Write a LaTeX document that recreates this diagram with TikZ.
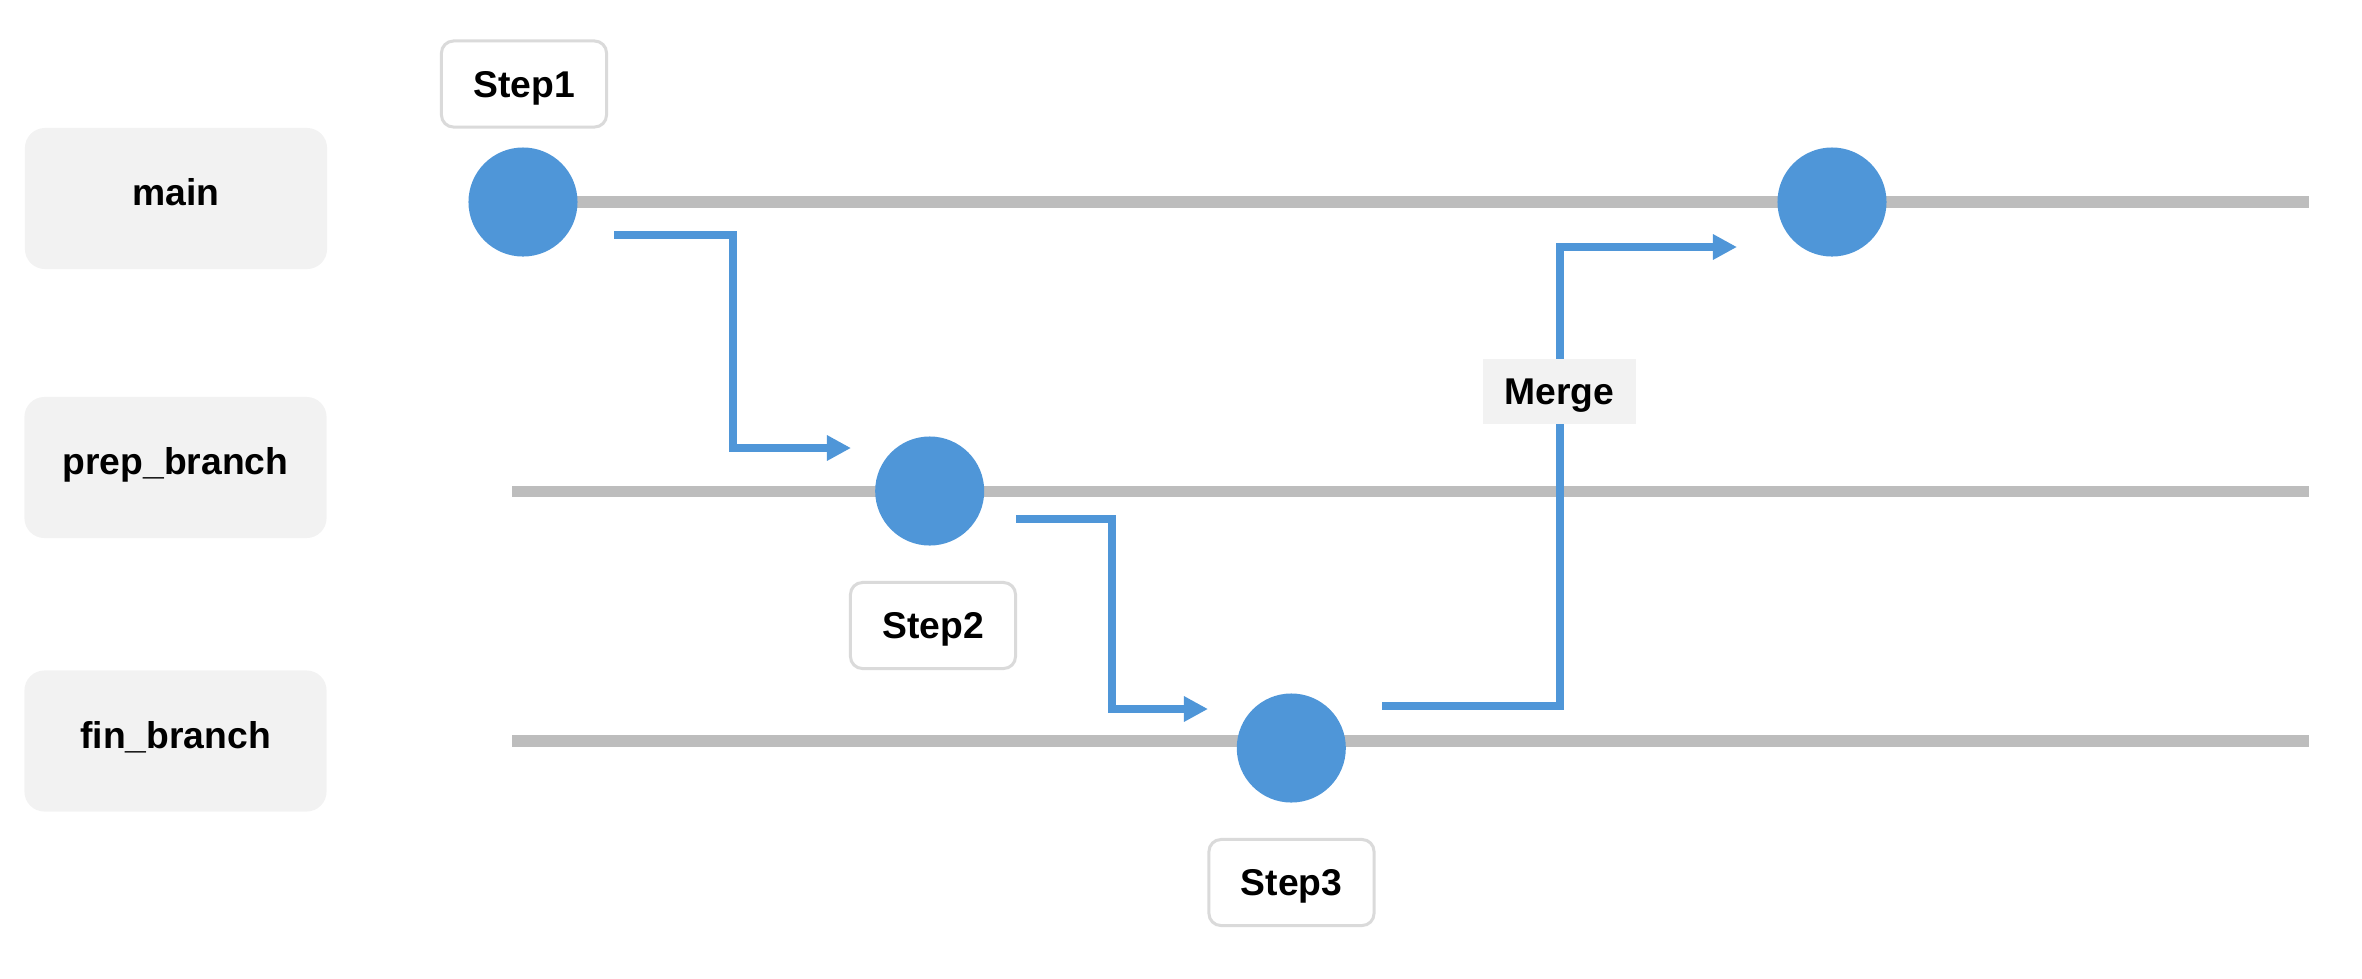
\documentclass[tikz,border=0pt]{standalone}
\usepackage{fontspec}
\setmainfont{Liberation Sans}
\usetikzlibrary{arrows.meta,calc}
\definecolor{laneFill}{HTML}{F2F2F2}
\definecolor{railGray}{HTML}{BDBDBD}
\definecolor{commitBlue}{HTML}{4F96D8}
\definecolor{stepBorder}{HTML}{DADADA}
\tikzset{
  labelfont/.style={font=\fontsize{10.6}{12}\selectfont\bfseries, text height=7.6pt},
  lanebox/.style={labelfont, text depth=1.2mm, fill=laneFill, rounded corners=0.2cm, minimum width=3.02cm, minimum height=1.41cm, inner sep=0pt},
  rail/.style={draw=railGray, line width=1.15mm},
  commit/.style={circle, fill=commitBlue, minimum size=1.09cm, inner sep=0pt},
  stepbox/.style={labelfont, text depth=0pt, draw=stepBorder, line width=0.3mm, fill=white, rounded corners=0.12cm, minimum width=1.65cm, minimum height=0.86cm, inner sep=0pt},
  mergebox/.style={labelfont, text depth=0pt, fill=laneFill, minimum width=1.53cm, minimum height=0.65cm, inner sep=0pt},
  flow/.style={draw=commitBlue, line width=0.8mm, -{Triangle[length=2.4mm, width=2.4mm]}}
}
\begin{document}
\begin{tikzpicture}[x=0.01cm, y=-0.01cm]
\useasboundingbox (0,0) rectangle (2362,978);
% lane labels
\node[lanebox] (lmain) at (176,198.5) {main};
\node[lanebox] (lprep) at (175.5,467.5) {prep\_branch};
\node[lanebox] (lfin) at (175.5,741) {fin\_branch};
% rail end points
\coordinate (mainStart) at (523,202);
\coordinate (mainEnd) at (2309,202);
\coordinate (prepStart) at (512,491.5);
\coordinate (prepEnd) at (2309,491.5);
\coordinate (finStart) at (512,741);
\coordinate (finEnd) at (2309,741);
% rails
\draw[rail] (mainStart) -- (mainEnd);
\draw[rail] (prepStart) -- (prepEnd);
\draw[rail] (finStart) -- (finEnd);
% commits
\node[commit] (c1) at (523,202) {};
\node[commit] (c2) at (929.7,491) {};
\node[commit] (c3) at (1291.3,748) {};
\node[commit] (c4) at (1832,202) {};
% step labels
\node[stepbox] (s1) at (524,84) {Step1};
\node[stepbox] (s2) at (933,625.5) {Step2};
\node[stepbox] (s3) at (1291.5,882.5) {Step3};
% connectors
\coordinate (f1a) at (614,235);
\coordinate (f1b) at (851,448);
\coordinate (f2a) at (1016,519);
\coordinate (f2b) at (1208,709);
\coordinate (f3a) at (1382,705.5);
\coordinate (f3b) at (1737,247);
\draw[flow] (f1a) -| ($(f1a)!.5!(f1b)$) |- (f1b);
\draw[flow] (f2a) -| ($(f2a)!.5!(f2b)$) |- (f2b);
\draw[flow] (f3a) -| ($(f3a)!.5!(f3b)$) |- (f3b);
% merge label
\node[mergebox] (merge) at (1559.5,391.5) {Merge};
\end{tikzpicture}
\end{document}
